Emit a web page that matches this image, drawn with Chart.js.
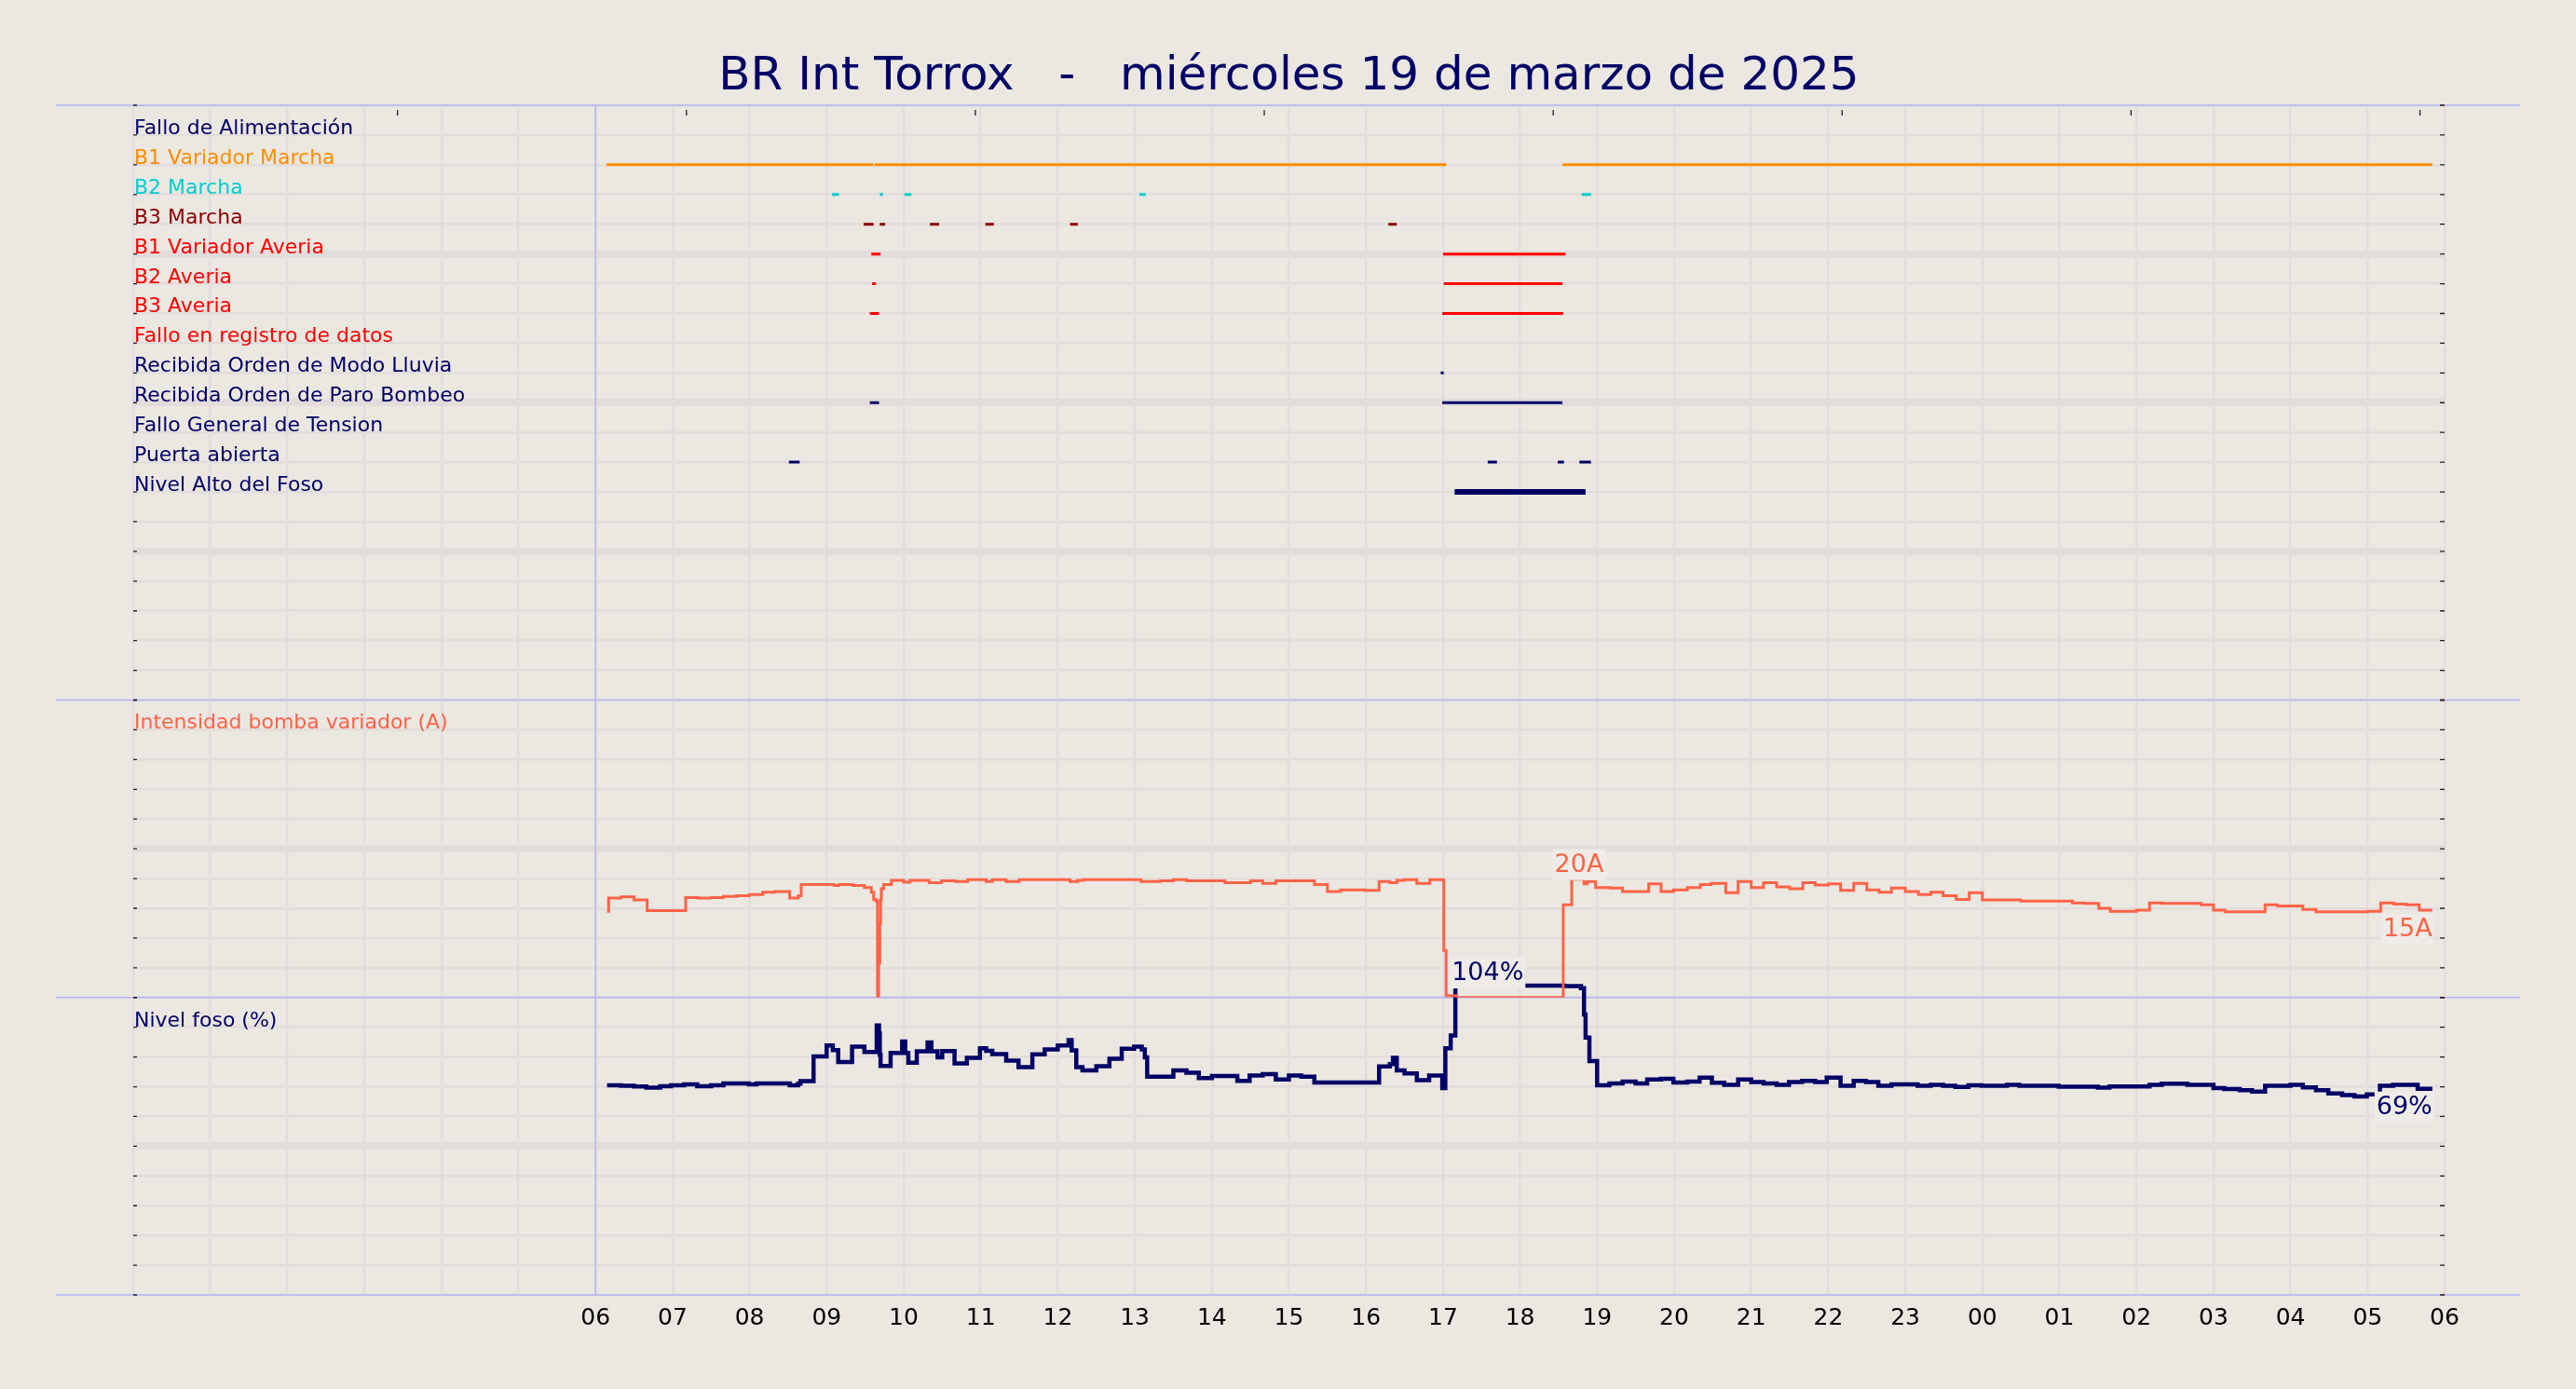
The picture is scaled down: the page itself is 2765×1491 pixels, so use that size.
<!DOCTYPE html>
<html lang="es">
<head>
<meta charset="utf-8">
<title>BR Int Torrox</title>
<script src="https://cdn.jsdelivr.net/npm/chart.js@4.4.1/dist/chart.umd.min.js"></script>
<style>
  html, body { margin: 0; padding: 0; background: #ebe7e1; }
  #grafica { display: block; }
</style>
</head>
<body>
<canvas id="grafica" width="2765" height="1491"></canvas>
<script>
/* ===== Registro diario estación de bombeo ===== */

// ── Eje horizontal (horas desde las 00:00 del día 19) ─────────
const etiquetasHora = [
    '06', '07', '08', '09', '10', '11', '12', '13', '14', '15', '16', '17', '18',
    '19', '20', '21', '22', '23', '00', '01', '02', '03', '04', '05', '06'
];
// Marcas del eje superior (sin etiqueta)
const marcasSuperiores = [3.43, 7.18, 10.93, 14.68, 18.43, 22.18, 25.93, 29.68];

// ── Señales digitales (panel superior) ────────────────────────
const nombresSenales = [
    'Fallo de Alimentación',
    'B1 Variador Marcha',
    'B2 Marcha',
    'B3 Marcha',
    'B1 Variador Averia',
    'B2 Averia',
    'B3 Averia',
    'Fallo en registro de datos',
    'Recibida Orden de Modo Lluvia',
    'Recibida Orden de Paro Bombeo',
    'Fallo General de Tension',
    'Puerta abierta',
    'Nivel Alto del Foso'
];

// Tramos activos [inicio, fin] en horas
const tramosFalloAlimentacion = [];
const tramosB1Marcha   = [[6.14, 9.605], [9.62, 17.04], [18.55, 29.84]];
const tramosB2Marcha   = [[9.07, 9.16], [9.69, 9.73], [10.01, 10.10], [13.06, 13.14], [18.80, 18.92]];
const tramosB3Marcha   = [[9.48, 9.61], [9.69, 9.76], [10.34, 10.46], [11.06, 11.17], [12.16, 12.26], [16.29, 16.40]];
const tramosB1Averia   = [[9.58, 9.70], [17.00, 18.59]];
const tramosB2Averia   = [[9.59, 9.64], [17.01, 18.55]];
const tramosB3Averia   = [[9.56, 9.68], [16.99, 18.56]];
const tramosFalloRegistro = [];
const tramosModoLluvia = [[16.97, 17.01]];
const tramosParoBombeo = [[9.56, 9.68], [16.99, 18.55]];
const tramosFalloTension = [];
const tramosPuerta     = [[8.51, 8.65], [17.58, 17.70], [18.49, 18.57], [18.77, 18.92]];
const tramosNivelAlto  = [[17.15, 18.85]];

const tramosSenales = [
    tramosFalloAlimentacion, tramosB1Marcha, tramosB2Marcha, tramosB3Marcha,
    tramosB1Averia, tramosB2Averia, tramosB3Averia, tramosFalloRegistro,
    tramosModoLluvia, tramosParoBombeo, tramosFalloTension, tramosPuerta,
    tramosNivelAlto
];

// ── Intensidad bomba variador (A) ─────────────────────────────
const horasIntensidad = [
    6.15, 6.17, 6.33, 6.50, 6.67, 7.17, 7.33, 7.50, 7.66, 7.83, 8.00, 8.17, 8.33,
    8.52, 8.63, 8.67, 9.10, 9.16, 9.34, 9.49, 9.58, 9.61, 9.64, 9.66, 9.675, 9.69,
    9.70, 9.71, 9.74, 9.84, 10.00, 10.08, 10.33, 10.49, 10.67, 10.83, 11.07, 11.15,
    11.33, 11.50, 12.16, 12.26, 12.33, 13.08, 13.33, 13.50, 13.67, 14.17, 14.50,
    14.66, 14.83, 15.33, 15.50, 15.67, 15.99, 16.17, 16.31, 16.40, 16.50, 16.66,
    16.83, 17.01, 17.04, 17.17, 18.56, 18.67, 18.83, 18.87, 18.98, 19.17, 19.33,
    19.67, 19.83, 19.99, 20.17, 20.34, 20.48, 20.67, 20.83, 21.00, 21.16, 21.33,
    21.50, 21.67, 21.83, 22.00, 22.16, 22.33, 22.50, 22.66, 22.82, 23.00, 23.17,
    23.33, 23.49, 23.66, 23.83, 24.00, 24.50, 25.17, 25.33, 25.51, 25.66, 26.00,
    26.17, 26.33, 26.84, 27.00, 27.15, 27.67, 27.83, 28.16, 28.33, 29.00, 29.17,
    29.34, 29.50, 29.67, 29.84
];
const valoresIntensidad = [
    14.5, 16.7, 16.9, 16.4, 14.6, 16.8, 16.7, 16.8, 17.0, 17.1, 17.3, 17.7, 17.8,
    16.7, 17.1, 19.0, 18.85, 19.0, 18.85, 18.5, 17.7, 16.5, 16.2, 0, 5.8, 12.4,
    16.5, 18.3, 19.0, 19.7, 19.4, 19.7, 19.3, 19.6, 19.5, 19.8, 19.5, 19.8,
    19.5, 19.8, 19.5, 19.7, 19.8, 19.5, 19.6, 19.8, 19.6, 19.3, 19.6,
    19.2, 19.6, 19.0, 17.8, 18.1, 18.0, 19.5, 19.3, 19.7, 19.8, 19.2,
    19.8, 7.9, 0.3, 0, 15.6, 19.9, 19.1, 19.5, 18.5, 18.4, 17.8,
    19.1, 17.8, 18.1, 18.5, 19.0, 19.2, 17.6, 19.5, 18.5, 19.3, 18.6,
    18.3, 19.3, 18.9, 19.1, 18.0, 19.2, 18.1, 17.7, 18.4, 17.8, 17.3,
    17.7, 17.1, 16.5, 17.6, 16.4, 16.2, 15.9, 15.8, 15.0, 14.5, 14.7,
    15.9, 15.8, 15.6, 14.7, 14.4, 15.6, 15.4, 14.8, 14.4, 14.5, 15.9,
    15.7, 15.6, 14.7, 14.7
];

// ── Nivel foso (%) ────────────────────────────────────────────
const horasNivel = [
    6.15, 6.33, 6.50, 6.66, 6.84, 6.98, 7.15, 7.32, 7.50, 7.66, 7.99, 8.09, 8.52,
    8.63, 8.66, 8.83, 9.00, 9.08, 9.15, 9.33, 9.49, 9.65, 9.68, 9.69, 9.70, 9.83,
    9.98, 10.02, 10.06, 10.17, 10.31, 10.36, 10.44, 10.50, 10.66, 10.82, 10.99,
    11.07, 11.15, 11.33, 11.49, 11.67, 11.83, 12.00, 12.14, 12.18, 12.24, 12.32,
    12.50, 12.67, 12.83, 12.99, 13.09, 13.13, 13.16, 13.50, 13.67, 13.83, 14.00,
    14.33, 14.49, 14.66, 14.83, 15.00, 15.16, 15.33, 16.17, 16.31, 16.35, 16.40,
    16.50, 16.66, 16.82, 16.99, 17.03, 17.10, 17.16, 18.57, 18.79, 18.83, 18.85,
    18.90, 19.00, 19.16, 19.33, 19.50, 19.65, 19.83, 19.99, 20.17, 20.33, 20.49,
    20.65, 20.83, 21.00, 21.16, 21.33, 21.49, 21.66, 21.83, 21.98, 22.16, 22.33,
    22.49, 22.65, 22.82, 23.16, 23.33, 23.49, 23.65, 23.82, 23.99, 24.32, 24.48,
    24.99, 25.50, 25.65, 26.17, 26.33, 26.66, 27.00, 27.14, 27.34, 27.50, 27.67,
    28.00, 28.16, 28.33, 28.49, 28.67, 28.83, 28.99, 29.16, 29.33, 29.65, 29.84
];
const valoresNivel = [
    70.5, 70.3, 70.1, 69.7, 70.2, 70.5, 70.8, 70.2, 70.5, 71.1, 70.8, 71.1, 70.5,
    71.0, 71.9, 80.2, 83.9, 82.3, 78.3, 83.5, 81.7, 90.6, 88.0, 80.7, 77.0, 81.4,
    85.2, 81.4, 78.1, 81.9, 84.9, 81.9, 79.9, 82.0, 77.8, 79.7, 82.9,
    82.1, 81.0, 78.8, 76.6, 80.9, 82.5, 83.9, 85.7, 82.2, 76.6, 75.5,
    76.9, 79.4, 82.8, 83.5, 82.5, 79.9, 73.4, 75.5, 74.7, 72.9, 73.6,
    72.0, 73.8, 74.2, 72.4, 73.8, 73.4, 71.4, 76.8, 77.6, 79.7, 75.5,
    74.5, 72.2, 73.8, 69.5, 82.9, 87.2, 104.0, 103.8, 103.1, 94.3, 86.5,
    78.6, 70.5, 71.1, 71.7, 71.1, 72.4, 72.7, 71.4, 71.7, 73.1, 71.3,
    70.6, 72.4, 71.6, 71.1, 70.6, 71.6, 72.0, 71.6, 73.1, 70.3, 72.0,
    71.6, 70.3, 70.8, 70.3, 70.6, 70.3, 69.9, 70.5, 70.3, 70.6, 70.3,
    70.0, 69.7, 70.1, 70.6, 71.0, 70.6, 69.5, 69.2, 68.8, 68.4, 70.3,
    70.6, 69.8, 68.8, 67.7, 67.2, 66.7, 67.4, 70.3, 70.6, 69.3, 69.3
];

// ── Estilos ───────────────────────────────────────────────────
const FUENTE  = "'DejaVu Sans', sans-serif";
const FONDO   = '#ebe7e1';
const REJILLA = '#e2dddb';
const LAVANDA = '#b4b4f4';
const CAJA    = '#efece8';
const AZUL    = '#000066';
const TOMATE  = '#ff6347';
const coloresSenales = [
    AZUL, '#ff8c00', '#00ced1', '#8b0000', '#ff0000', '#ff0000', '#ff0000',
    '#ff0000', AZUL, AZUL, AZUL, AZUL, AZUL
];

// ── Utilidades ────────────────────────────────────────────────
function puntosTramos(tramos, fila) {
    const pts = [];
    tramos.forEach(([ini, fin]) => {
        pts.push({ x: ini, y: fila }, { x: fin, y: fila }, { x: fin, y: null });
    });
    return pts;
}

function serie(horas, valores) {
    return horas.map((h, i) => ({ x: h, y: valores[i] }));
}

function indiceMaximo(arr) {
    let k = 0;
    arr.forEach((v, i) => { if (v > arr[k]) k = i; });
    return k;
}

// Texto de valor con caja clara detrás
function etiquetaValor(ctx, texto, x, yBase, alineacion, color) {
    ctx.font = `27px ${FUENTE}`;
    const ancho = ctx.measureText(texto).width;
    const x0 = alineacion === 'center' ? x - ancho / 2 : (alineacion === 'right' ? x - ancho : x);
    ctx.fillStyle = CAJA;
    ctx.fillRect(x0 - 2, yBase - 24, ancho + 4, 33);
    ctx.fillStyle = color;
    ctx.textAlign = 'left';
    ctx.textBaseline = 'alphabetic';
    ctx.fillText(texto, x0, yBase);
}

// ── Plugin: fondo, líneas lavanda, marcas y textos ────────────
const pluginDecoracion = {
    id: 'decoracion',
    beforeDraw(chart) {
        const ctx = chart.ctx;
        ctx.save();
        ctx.fillStyle = FONDO;
        ctx.fillRect(0, 0, chart.width, chart.height);
        ctx.restore();
    },
    beforeDatasetsDraw(chart) {
        const { ctx, chartArea, scales } = chart;
        ctx.save();
        ctx.strokeStyle = LAVANDA;
        ctx.lineWidth = 1.5;
        // separadores de paneles
        const cortes = [scales.yEv.top, scales.yA.top, scales.yN.top, scales.yN.bottom];
        cortes.forEach(y => {
            ctx.beginPath();
            ctx.moveTo(60, y);
            ctx.lineTo(2705, y);
            ctx.stroke();
        });
        // inicio del periodo (06:00)
        const x6 = scales.x.getPixelForValue(6);
        ctx.beginPath();
        ctx.moveTo(x6, chartArea.top);
        ctx.lineTo(x6, chartArea.bottom);
        ctx.stroke();

        // marcas cortas hacia dentro en los bordes
        ctx.strokeStyle = '#222';
        ctx.lineWidth = 1.3;
        ['yEv', 'yA', 'yN'].forEach(id => {
            const s = scales[id];
            s.ticks.forEach(t => {
                const y = s.getPixelForValue(t.value);
                ctx.beginPath();
                ctx.moveTo(chartArea.left, y);
                ctx.lineTo(chartArea.left + 4, y);
                ctx.moveTo(chartArea.right - 5, y);
                ctx.lineTo(chartArea.right, y);
                ctx.stroke();
            });
        });
        marcasSuperiores.forEach(h => {
            const x = scales.x.getPixelForValue(h);
            ctx.beginPath();
            ctx.moveTo(x, chartArea.top + 5);
            ctx.lineTo(x, chartArea.top + 11);
            ctx.stroke();
        });
        ctx.restore();
    },
    afterDatasetsDraw(chart) {
        const { ctx, chartArea, scales } = chart;
        ctx.save();
        ctx.textAlign = 'left';
        ctx.textBaseline = 'alphabetic';
        ctx.font = `22px ${FUENTE}`;
        const xTexto = chartArea.left + 1;

        // nombres de las señales
        nombresSenales.forEach((nombre, i) => {
            ctx.fillStyle = coloresSenales[i];
            ctx.fillText(nombre, xTexto, scales.yEv.getPixelForValue(i + 1) - 1);
        });
        // títulos de los paneles analógicos
        ctx.fillStyle = TOMATE;
        ctx.fillText('Intensidad bomba variador (A)', xTexto, scales.yA.getPixelForValue(45) - 1);
        ctx.fillStyle = AZUL;
        ctx.fillText('Nivel foso (%)', xTexto, scales.yN.getPixelForValue(90) - 1);

        // máximos y últimos valores
        const kA = indiceMaximo(valoresIntensidad);
        const kN = indiceMaximo(valoresNivel);
        const uA = valoresIntensidad.length - 1;
        const uN = valoresNivel.length - 1;
        const px = h => scales.x.getPixelForValue(h);

        etiquetaValor(ctx, Math.round(valoresIntensidad[kA]) + 'A',
            px(horasIntensidad[kA]) + 8, scales.yA.getPixelForValue(valoresIntensidad[kA]) - 8, 'center', TOMATE);
        etiquetaValor(ctx, Math.round(valoresNivel[kN]) + '%',
            px(horasNivel[kN]) - 4, scales.yN.getPixelForValue(valoresNivel[kN]) - 6, 'left', AZUL);
        etiquetaValor(ctx, Math.round(valoresIntensidad[uA]) + 'A',
            px(horasIntensidad[uA]), scales.yA.getPixelForValue(valoresIntensidad[uA]) + 28, 'right', TOMATE);
        etiquetaValor(ctx, Math.round(valoresNivel[uN]) + '%',
            px(horasNivel[uN]), scales.yN.getPixelForValue(valoresNivel[uN]) + 27, 'right', AZUL);
        ctx.restore();
    }
};

// ── Conjuntos de datos ────────────────────────────────────────
const conjuntos = tramosSenales.map((tramos, i) => ({
    label: nombresSenales[i],
    yAxisID: 'yEv',
    data: puntosTramos(tramos, i + 1),
    borderColor: coloresSenales[i],
    borderWidth: i === nombresSenales.length - 1 ? 6 : 3,
    borderCapStyle: 'butt',
    pointRadius: 0,
    spanGaps: false,
    fill: false
}));

conjuntos.push({
    label: 'Intensidad bomba variador (A)',
    yAxisID: 'yA',
    data: serie(horasIntensidad, valoresIntensidad),
    borderColor: TOMATE,
    borderWidth: 3,
    stepped: true,
    pointRadius: 0,
    fill: false
});

conjuntos.push({
    label: 'Nivel foso (%)',
    yAxisID: 'yN',
    data: serie(horasNivel, valoresNivel),
    borderColor: AZUL,
    borderWidth: 4.5,
    stepped: true,
    pointRadius: 0,
    fill: false
});

// ── Rejilla: líneas gruesas cada 5 divisiones ─────────────────
function rejillaY(valorGrueso) {
    return {
        color: REJILLA,
        drawTicks: false,
        lineWidth: c => (c.tick && valorGrueso.includes(c.tick.value)) ? 8 : 2.6
    };
}

// ── Gráfica ───────────────────────────────────────────────────
// Los ejes apilados a la izquierda se colocan en orden inverso:
// el último definido queda arriba.
new Chart(document.getElementById('grafica').getContext('2d'), {
    type: 'line',
    data: { datasets: conjuntos },
    plugins: [pluginDecoracion],
    options: {
        responsive: false,
        animation: false,
        devicePixelRatio: 1,
        layout: { padding: { top: 53, left: 143, right: 141, bottom: 51 } },
        plugins: {
            legend: { display: false },
            tooltip: { enabled: false },
            title: {
                display: true,
                text: 'BR Int Torrox   -   miércoles 19 de marzo de 2025',
                color: AZUL,
                font: { family: FUENTE, size: 50, weight: 'normal' },
                padding: { top: 0, bottom: 0 }
            }
        },
        scales: {
            x: {
                type: 'linear',
                min: 0,
                max: 30,
                ticks: {
                    stepSize: 1,
                    autoSkip: false,
                    maxRotation: 0,
                    padding: 10,
                    color: '#000',
                    font: { family: FUENTE, size: 25 },
                    callback: v => v >= 6 ? etiquetasHora[v - 6] : ''
                },
                grid: { color: REJILLA, lineWidth: 2.5, drawTicks: false },
                border: { display: false }
            },
            yN: {
                type: 'linear',
                position: 'left',
                stack: 'paneles',
                stackWeight: 10,
                min: 0,
                max: 100,
                clip: false,          // el nivel puede pasar de 100 %
                ticks: { display: false, stepSize: 10 },
                grid: rejillaY([50]),
                border: { display: false }
            },
            yA: {
                type: 'linear',
                position: 'left',
                stack: 'paneles',
                stackWeight: 10,
                min: 0,
                max: 50,
                ticks: { display: false, stepSize: 5 },
                grid: rejillaY([25]),
                border: { display: false }
            },
            yEv: {
                type: 'linear',
                position: 'left',
                stack: 'paneles',
                stackWeight: 20,
                min: 0,
                max: 20,
                reverse: true,
                ticks: { display: false, stepSize: 1 },
                grid: rejillaY([5, 10, 15]),
                border: { display: false }
            }
        }
    }
});
</script>
</body>
</html>
